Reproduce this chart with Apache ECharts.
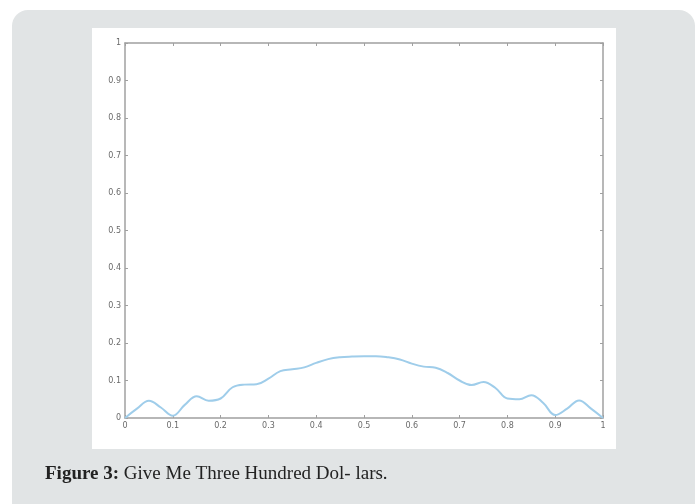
<!DOCTYPE html>
<html>
<head>
<meta charset="utf-8">
<script src="https://cdn.jsdelivr.net/npm/echarts@6/dist/echarts.min.js"></script>
<style>
  html, body { margin: 0; padding: 0; background: #ffffff; }
  #chart { width: 699px; height: 504px; }
</style>
</head>
<body>
<div id="chart"></div>
<script>
// x positions and curve values
const xValues = [0, 0.025, 0.05, 0.075, 0.1, 0.125, 0.15, 0.175, 0.2, 0.225,
  0.25, 0.275, 0.3, 0.325, 0.35, 0.375, 0.4, 0.425, 0.45, 0.475,
  0.5, 0.525, 0.55, 0.575, 0.6, 0.625, 0.65, 0.675, 0.7, 0.725,
  0.75, 0.775, 0.8, 0.825, 0.85, 0.875, 0.9, 0.925, 0.95, 0.975, 1];
const yValues = [0, 0.025, 0.046, 0.028, 0.006, 0.035, 0.058, 0.046, 0.052, 0.082,
  0.089, 0.09, 0.105, 0.125, 0.13, 0.135, 0.147, 0.157, 0.162, 0.164,
  0.165, 0.165, 0.162, 0.156, 0.145, 0.137, 0.134, 0.12, 0.1, 0.088,
  0.096, 0.08, 0.052, 0.05, 0.061, 0.04, 0.008, 0.025, 0.047, 0.025, 0];
const captionBold = "Figure 3:";
const captionText = " Give Me Three Hundred Dol- lars.";

const axisGrey = "#a0a0a0";
const labelGrey = "#6a6a6a";

const chart = echarts.init(document.getElementById("chart"));

function boxAxis(pos, withLabels) {
  return {
    type: "value",
    position: pos,
    min: 0,
    max: 1,
    interval: 0.1,
    axisLine: { show: true, onZero: false, lineStyle: { color: axisGrey, width: 1.5 } },
    axisTick: { show: true, inside: true, length: 3, lineStyle: { color: axisGrey } },
    axisLabel: {
      show: withLabels,
      color: labelGrey,
      fontSize: 8,
      fontFamily: "DejaVu Sans",
      margin: 4,
      formatter: v => (Math.round(v * 10) / 10).toString()
    },
    splitLine: { show: false }
  };
}

const option = {
  animation: false,
  backgroundColor: "#ffffff",
  graphic: [
    {
      type: "rect",
      z: -10,
      shape: { x: 12, y: 10, width: 683, height: 510, r: 16 },
      style: { fill: "#e1e4e5" }
    },
    {
      type: "rect",
      z: -9,
      shape: { x: 92, y: 28, width: 524, height: 421 },
      style: { fill: "#ffffff" }
    },
    {
      type: "text",
      left: 45,
      top: 465,
      style: {
        text: "{b|" + captionBold + "}{n|" + captionText + "}",
        rich: {
          b: { fontFamily: "Liberation Serif", fontWeight: "bold", fontSize: 19, fill: "#222" },
          n: { fontFamily: "Liberation Serif", fontSize: 19, fill: "#222" }
        }
      }
    }
  ],
  grid: { left: 125, right: 96, top: 43, bottom: 86 },
  xAxis: [boxAxis("bottom", true), boxAxis("top", false)],
  yAxis: [boxAxis("left", true), boxAxis("right", false)],
  series: [
    {
      type: "line",
      data: xValues.map((x, i) => [x, yValues[i]]),
      smooth: 0.4,
      showSymbol: false,
      lineStyle: { color: "#9fcdea", width: 2 }
    }
  ]
};

chart.setOption(option);
</script>
</body>
</html>
